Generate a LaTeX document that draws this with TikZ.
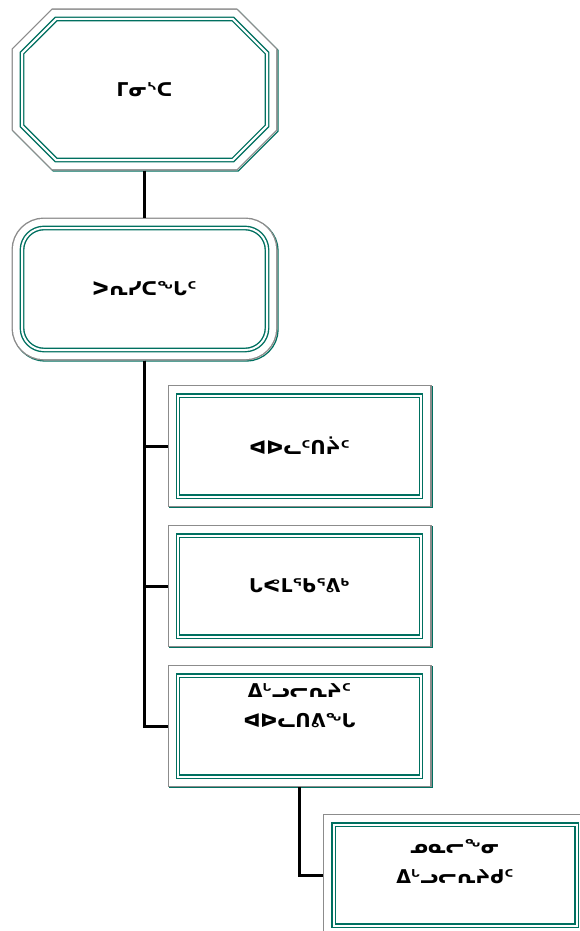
\documentclass[tikz,border=0pt]{standalone}
\usepackage{fontspec}
\newfontfamily\syllabics{DejaVu Sans}
\usetikzlibrary{shapes.misc}
\definecolor{frameteal}{RGB}{0,112,96}
\definecolor{framegray}{RGB}{140,140,140}
\tikzset{
  unit/.style={draw=frameteal, line width=1.4pt, double=white, double distance=2pt,
    fill=white, outer sep=10.5pt, inner sep=0pt, align=center,
    minimum width=243pt, minimum height=101pt,
    font=\syllabics\bfseries\fontsize{19}{30}\selectfont,
    preaction={draw=frameteal, line width=1.4pt, double=white, double distance=18.2pt,
      transform canvas={shift={(1.2pt,-1.2pt)}}},
    preaction={draw=framegray, line width=1.4pt, double=white, double distance=18.2pt}},
  topunit/.style={unit, chamfered rectangle, chamfered rectangle xsep=27pt,
    chamfered rectangle ysep=27pt, minimum width=245pt, minimum height=141pt},
  midunit/.style={unit, rounded corners=22pt, minimum width=245pt, minimum height=122pt},
  link/.style={line width=3pt}
}
\begin{document}
\begin{tikzpicture}[x=1pt,y=-1pt]
  \useasboundingbox (0,0) rectangle (579,931);
  \node[topunit] (minister)   at (144.5,89.5) {ᒥᓂᔅᑕ};
  \node[midunit] (president)  at (144.5,289)  {ᐳᕆᓯᑕᖓᑦ};
  \node[unit]    (managers)   at (299.5,446)  {ᐊᐅᓚᑦᑎᔩᑦ};
  \node[unit]    (government) at (299.5,586)  {ᒐᕙᒪᖃᕐᕕᒃ};
  \node[unit, text depth=40pt] (housing)   at (299.5,726) {ᐃᒡᓗᓕᕆᔨᑦ\\ᐊᐅᓚᑎᕕᖓ};
  \node[unit, text depth=28pt] (community) at (455,875)   {ᓄᓇᓕᖕᓂ\\ᐃᒡᓗᓕᕆᔨᑯᑦ};
  % links
  \draw[link] (minister) -- (president);
  \draw[link] (president.south) |- (managers.west);
  \draw[link] (president.south) |- (government.west);
  \draw[link] (president.south) |- (housing.west);
  \draw[link] (housing.south) |- (community.west);
\end{tikzpicture}
\end{document}
